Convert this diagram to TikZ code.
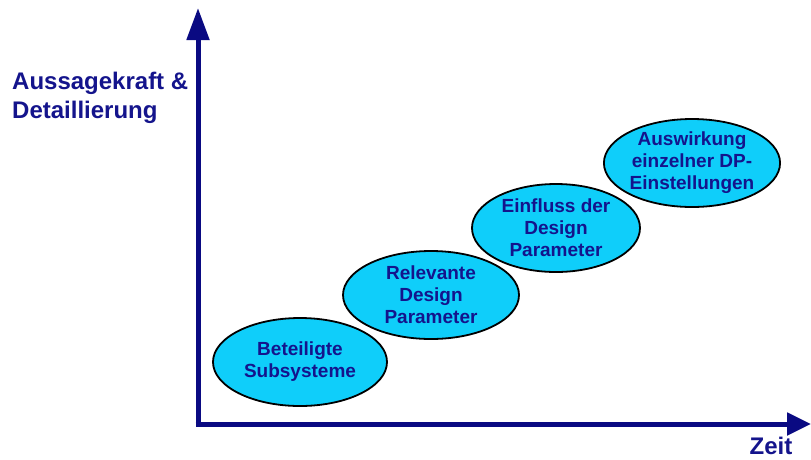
\documentclass[tikz,border=0pt]{standalone}
\usepackage{fontspec}
\setmainfont{Liberation Sans}
\usepackage{tikz}
\usetikzlibrary{shapes.geometric}
\usetikzlibrary{arrows.meta}

\definecolor{axisblue}{RGB}{10,10,130}
\definecolor{textblue}{RGB}{20,20,140}
\definecolor{phasecyan}{RGB}{15,206,250}

\tikzset{
	phase/.style={draw=black,line width=1.8pt,fill=phasecyan,shape=ellipse,minimum width=174pt,minimum height=88pt,inner sep=0pt,align=center,text=textblue,font=\bfseries\fontsize{19}{22}\selectfont},
	axis/.style={draw=axisblue,line width=5pt},
	axislabel/.style={text=textblue,font=\bfseries\fontsize{24}{29}\selectfont,inner sep=0pt}
}

\begin{document}
\begin{tikzpicture}[x=1pt,y=-1pt]
	\useasboundingbox (0,0) rectangle (811,459);
	\coordinate (o) at (198,424);
	\coordinate (ytop) at (198,8);
	\coordinate (xend) at (811,424);
	\draw[axis,-{Triangle[length=32pt,width=22pt]}] (198,426.5) -- (ytop);
	\draw[axis,-{Triangle[length=24pt,width=22pt]}] (195.5,424) -- (xend);
	\draw (12,98) node (ylab) [axislabel,anchor=west,align=left] {Aussagekraft \&\\Detaillierung};
	\draw (771,446) node (xlab) [axislabel] {Zeit};
	\draw (300,362) node (p1) [phase] {Beteiligte\\Subsysteme};
	\draw (431,295) node (p2) [phase,minimum width=176pt] {Relevante\\Design\\Parameter};
	\draw (556,228) node (p3) [phase,minimum width=168pt] {Einfluss der\\Design\\Parameter};
	\draw (692,163) node (p4) [phase] {Auswirkung\\einzelner DP-\\Einstellungen};
\end{tikzpicture}
\end{document}
